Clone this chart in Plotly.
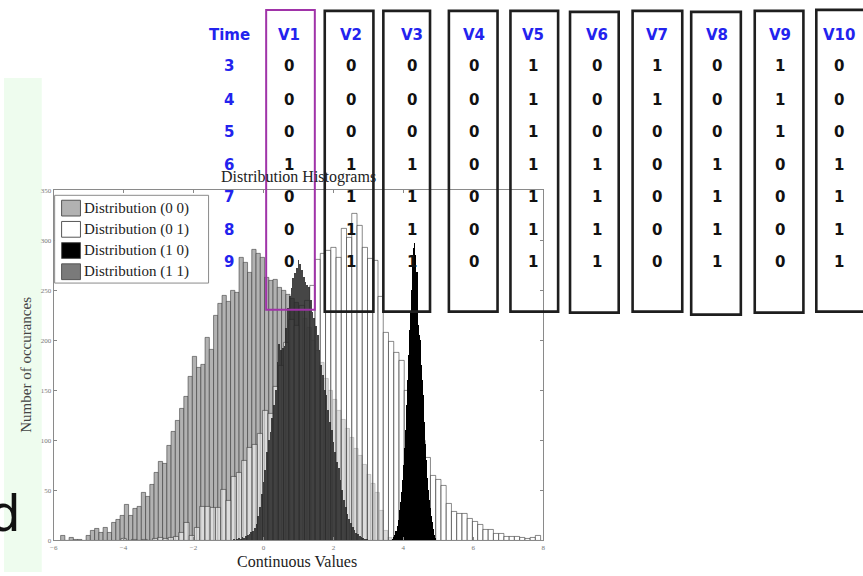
import numpy as np
import plotly.graph_objects as go

W, H = 863, 576

# ---------------- histogram data (bin counts) ----------------
# Distribution (0 0): light gray, bins of 0.1215 starting at centre -5.74
g00_start, g00_width = -5.74, 0.1215
g00_counts = [5, 0, 3, 1, 1, 0, 5, 10, 12, 8,
              13, 8, 18, 21, 25, 36, 25, 32, 34, 48,
              44, 56, 68, 79, 77, 95, 109, 120, 132, 144,
              164, 184, 173, 176, 203, 191, 225, 237, 245, 239,
              250, 248, 283, 278, 268, 291, 287, 283, 263, 260,
              261, 253, 250, 246, 242, 238, 230, 222, 213, 200,
              190, 178, 162, 150, 141, 130, 121, 112, 103, 92,
              85, 76, 66, 57, 48, 30, 10, 3]

# Distribution (0 1): white, bins of 0.15 starting at centre -4.0
g01_start, g01_width = -4.0, 0.15
g01_counts = [2, 0, 1, 0, 1, 0, 2, 3, 2, 3,
              4, 8, 18, 5, 13, 34, 34, 33, 33, 51,
              40, 64, 68, 80, 93, 96, 107, 130, 127, 154,
              175, 198, 221, 215, 235, 240, 255, 281, 287, 290,
              293, 283, 312, 303, 327, 315, 293, 282, 280, 244,
              208, 199, 188, 180, 150, 145, 125, 100, 83, 65,
              61, 55, 37, 29, 27, 27, 22, 19, 16, 11,
              11, 7, 7, 4, 4, 4, 3, 2, 3, 5]

# Distribution (1 0): black spike, bins of 0.03 starting at centre 3.70
g10_start, g10_width = 3.70, 0.03
g10_counts = [1, 3, 5, 9, 14, 20, 30, 38, 48, 60,
              75, 92, 110, 135, 160, 185, 210, 228, 250, 275,
              292, 297, 285, 268, 215, 205, 200, 175, 160, 145,
              118, 96, 80, 62, 50, 40, 32, 24, 18, 11,
              5, 2]

# Distribution (1 1): dark gray, bins of 0.05 starting at centre -0.85
g11_start, g11_width = -0.85, 0.05
g11_counts = [1, 0, 1, 2, 1, 3, 2, 4, 5, 6,
              8, 9, 12, 16, 24, 33, 46, 58, 70, 88,
              100, 108, 122, 135, 150, 178, 196, 190, 192, 194,
              212, 232, 244, 252, 262, 267, 272, 280, 276, 270,
              263, 258, 255, 253, 240, 228, 222, 214, 205, 190,
              175, 165, 150, 145, 130, 118, 110, 98, 88, 78,
              72, 60, 50, 40, 33, 26, 21, 17, 13, 10,
              7, 6, 4, 3, 2, 1, 1]

legend_names = ["Distribution (0 0)", "Distribution (0 1)",
                "Distribution (1 0)", "Distribution (1 1)"]

x_ticks = [-6, -4, -2, 0, 2, 4, 6, 8]
y_ticks = [0, 50, 100, 150, 200, 250, 300, 350]

# ---------------- table data ----------------
time_steps = [3, 4, 5, 6, 7, 8, 9]
var_names = ["V1", "V2", "V3", "V4", "V5", "V6", "V7", "V8", "V9", "V10"]
V1 = [0, 0, 0, 1, 0, 0, 0]
V2 = [0, 0, 0, 1, 1, 1, 1]
V3 = [0, 0, 0, 1, 1, 1, 1]
V4 = [0, 0, 0, 0, 0, 0, 0]
V5 = [1, 1, 1, 1, 1, 1, 1]
V6 = [0, 0, 0, 1, 1, 1, 1]
V7 = [1, 1, 0, 0, 0, 0, 0]
V8 = [0, 0, 0, 1, 1, 1, 1]
V9 = [1, 1, 1, 0, 0, 0, 0]
V10 = [0, 0, 0, 1, 1, 1, 1]
table_cols = [V1, V2, V3, V4, V5, V6, V7, V8, V9, V10]


def centers(start, width, counts):
    return start + width * np.arange(len(counts))


def px(x):
    return x / W


def py(y):
    return 1 - y / H


fig = go.Figure()

fig.add_trace(go.Bar(
    x=centers(g00_start, g00_width, g00_counts), y=g00_counts, width=g00_width,
    name=legend_names[0], marker=dict(color="#b2b2b2", line=dict(color="#3a3a3a", width=0.6)),
))
fig.add_trace(go.Bar(
    x=centers(g01_start, g01_width, g01_counts), y=g01_counts, width=g01_width,
    name=legend_names[1], marker=dict(color="rgba(255,255,255,0.55)", line=dict(color="#3a3a3a", width=0.6)),
))
fig.add_trace(go.Bar(
    x=centers(g11_start, g11_width, g11_counts), y=g11_counts, width=g11_width,
    name=legend_names[3], marker=dict(color="rgba(38,38,38,0.85)", line=dict(width=0)),
))
fig.add_trace(go.Bar(
    x=centers(g10_start, g10_width, g10_counts), y=g10_counts, width=g10_width,
    name=legend_names[2], marker=dict(color="#000000", line=dict(width=0)),
))

# plot area in pixels
PX0, PX1, PY0, PY1 = 50, 543, 189, 544

fig.update_layout(
    width=W, height=H, autosize=False,
    margin=dict(l=0, r=0, t=0, b=0),
    paper_bgcolor="white", plot_bgcolor="white",
    barmode="overlay", bargap=0, showlegend=False, hovermode=False,
    xaxis=dict(domain=[px(PX0), px(PX1)], range=[-6, 8], tickvals=x_ticks,
               ticks="inside", ticklen=3, tickcolor="#888", showline=True, mirror="ticks",
               linecolor="#8a8a8a", linewidth=1, showgrid=False, zeroline=False,
               tickfont=dict(family="Liberation Serif", size=7, color="#777")),
    yaxis=dict(domain=[py(PY1), py(PY0)], range=[0, 350], tickvals=y_ticks,
               ticks="inside", ticklen=3, tickcolor="#888", showline=True, mirror="ticks",
               linecolor="#8a8a8a", linewidth=1, showgrid=False, zeroline=False,
               tickfont=dict(family="Liberation Serif", size=7, color="#777")),
)

shapes = []
# light green panel on the left
shapes.append(dict(type="rect", xref="paper", yref="paper", x0=px(0), x1=px(38), y0=py(576), y1=py(75),
                   fillcolor="#eefcee", line=dict(width=0), layer="below"))

# legend box and swatches
shapes.append(dict(type="rect", xref="paper", yref="paper", x0=px(51), x1=px(206), y0=py(283), y1=py(194),
                   fillcolor="white", line=dict(color="#8a8a8a", width=1), layer="above"))
swatch_fill = ["#b2b2b2", "#ffffff", "#000000", "#7a7a7a"]
row_y = [207, 228.5, 250, 271.5]
for c, yy in zip(swatch_fill, row_y):
    shapes.append(dict(type="rect", xref="paper", yref="paper", x0=px(58), x1=px(77), y0=py(yy + 8), y1=py(yy - 8),
                       fillcolor=c, line=dict(color="#555", width=1), layer="above"))

# table boxes
box_x = [(264, 313), (323, 372), (382, 429), (448, 497), (510, 558),
         (570, 619), (633, 683), (692, 742), (756, 805), (818, 875)]
box_y = [(6, 310), (7, 312), (7, 312), (7, 312), (7, 312),
         (8, 313), (7, 312), (8, 315), (7, 313), (6, 312)]
for i, ((x0, x1), (y0, y1)) in enumerate(zip(box_x, box_y)):
    color = "#a033a8" if i == 0 else "#1e1e1e"
    lw = 2 if i == 0 else 2.6
    shapes.append(dict(type="rect", xref="paper", yref="paper", x0=px(x0), x1=px(x1), y0=py(y1), y1=py(y0),
                       line=dict(color=color, width=lw), fillcolor="rgba(0,0,0,0)", layer="above"))

annotations = []
serif = "Liberation Serif"
annotations.append(dict(text="Distribution Histograms", x=px(297), y=py(175), xref="paper", yref="paper",
                        showarrow=False, font=dict(family=serif, size=16, color="#222"),
                        xanchor="center", yanchor="middle"))
annotations.append(dict(text="Continuous Values", x=px(295), y=py(565), xref="paper", yref="paper",
                        showarrow=False, font=dict(family=serif, size=16, color="#222"),
                        xanchor="center", yanchor="middle"))
annotations.append(dict(text="Number of occurances", x=px(22), y=py(366), xref="paper", yref="paper",
                        showarrow=False, textangle=-90, font=dict(family=serif, size=15, color="#444"),
                        xanchor="center", yanchor="middle"))
for name, yy in zip(legend_names, row_y):
    annotations.append(dict(text=name, x=px(79), y=py(yy), xref="paper", yref="paper",
                            showarrow=False, font=dict(family=serif, size=15, color="#222"),
                            xanchor="left", yanchor="middle"))

# table text
sans_b = "DejaVu Sans"
blue = "#2323ee"
col_x = [287, 349, 411, 473, 533, 597, 658, 718, 781, 841]
header_y = 31
row_py = [63, 97, 130, 163, 196, 229, 262]
annotations.append(dict(text="<b>Time</b>", x=px(227), y=py(header_y), xref="paper", yref="paper",
                        showarrow=False, font=dict(family=sans_b, size=15, color=blue),
                        xanchor="center", yanchor="middle"))
for name, cx in zip(var_names, col_x):
    annotations.append(dict(text=f"<b>{name}</b>", x=px(cx), y=py(header_y), xref="paper", yref="paper",
                            showarrow=False, font=dict(family=sans_b, size=15, color=blue),
                            xanchor="center", yanchor="middle"))
for t, ry in zip(time_steps, row_py):
    annotations.append(dict(text=f"<b>{t}</b>", x=px(227), y=py(ry), xref="paper", yref="paper",
                            showarrow=False, font=dict(family=sans_b, size=15, color=blue),
                            xanchor="center", yanchor="middle"))
for col, cx in zip(table_cols, col_x):
    for v, ry in zip(col, row_py):
        annotations.append(dict(text=f"<b>{v}</b>", x=px(cx), y=py(ry), xref="paper", yref="paper",
                                showarrow=False, font=dict(family=sans_b, size=15, color="#111"),
                                xanchor="center", yanchor="middle"))

# big partial letter at bottom left
annotations.append(dict(text="d", x=px(19), y=py(517), xref="paper", yref="paper",
                        showarrow=False, font=dict(family="DejaVu Sans", size=50, color="#111"),
                        xanchor="right", yanchor="middle"))

fig.update_layout(shapes=shapes, annotations=annotations)
fig.write_html(
    "out.html",
    config={"displayModeBar": False, "staticPlot": True},
    post_script="document.body.style.margin='0';document.body.style.overflow='hidden';",
)
